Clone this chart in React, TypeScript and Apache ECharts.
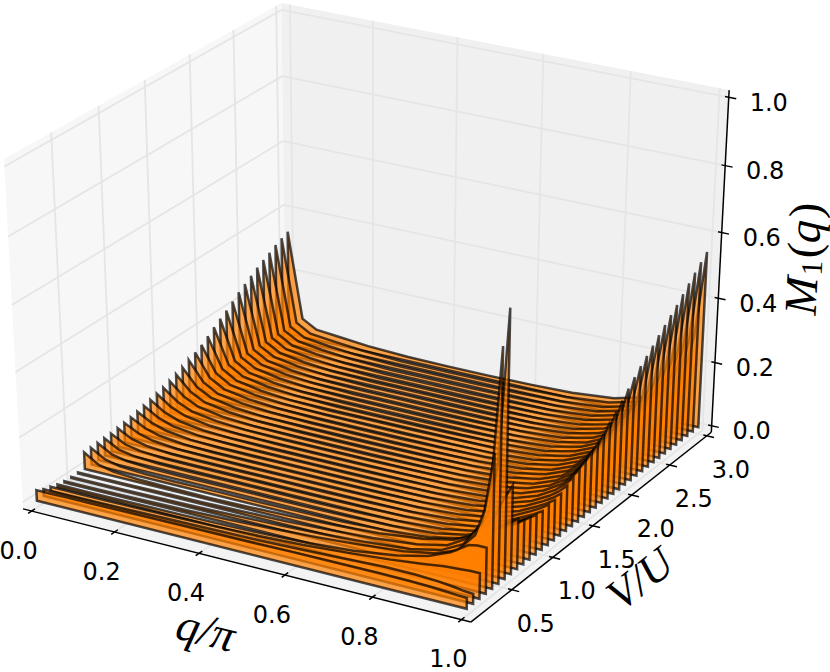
import React, { useEffect, useRef } from "react";
import * as echarts from "echarts";

const qGrid = [0, 0.035, 0.07, 0.13, 0.2, 0.3, 0.4, 0.5, 0.6, 0.7, 0.8, 0.87, 0.92, 0.96, 0.98, 1];
const vStep = 0.075;
const vMin = 0.075;
const vMax = 3;
const qTicks = ["0.0", "0.2", "0.4", "0.6", "0.8", "1.0"];
const vTicks = ["0.5", "1.0", "1.5", "2.0", "2.5", "3.0"];
const mTicks = ["0.0", "0.2", "0.4", "0.6", "0.8", "1.0"];

// one row per V/U slice, front (V = 0.075) to back (V = 3.0), one value per entry of qGrid
const slices = [
  [.033, .033, .034, .034, .035, .036, .037, .038, .04, .041, .042, .041, .039, .036, .034, .033],
  [.022, .022, .022, .023, .024, .026, .028, .03, .034, .039, .045, .045, .042, .036, .032, .03],
  [.015, .015, .015, .015, .016, .018, .02, .024, .03, .04, .052, .063, .072, .076, .078, .078],
  [.008, .008, .008, .008, .009, .01, .012, .015, .021, .031, .05, .072, .1, .135, .14, .14],
  [.004, .004, .004, .005, .006, .008, .012, .018, .025, .035, .048, .065, .09, .15, .23, .408],
  [.003, .003, .003, .004, .005, .007, .01, .014, .02, .028, .04, .06, .095, .17, .3, .704],
  [.003, .003, .003, .004, .005, .006, .009, .012, .018, .026, .04, .06, .1, .18, .34, .8],
  [.0525, .024, .014, .009, .007, .006, .008, .012, .018, .026, .042, .062, .095, .16, .22, .27],
  [.053, .026, .016, .012, .011, .012, .012, .013, .015, .021, .032, .052, .078, .115, .135, .154],
  [.054, .028, .019, .014, .013, .014, .014, .014, .016, .02, .03, .048, .072, .102, .118, .136],
  [.055, .03, .021, .016, .015, .015, .015, .015, .016, .02, .029, .046, .068, .096, .112, .13],
  [.056, .032, .023, .017, .016, .016, .016, .016, .017, .02, .029, .044, .065, .092, .106, .122],
  [.059, .035, .025, .018, .016, .016, .016, .016, .017, .02, .029, .044, .064, .09, .104, .12],
  [.062, .039, .027, .019, .017, .016, .016, .016, .017, .02, .029, .044, .065, .092, .107, .125],
  [.066, .042, .029, .02, .017, .016, .016, .016, .017, .02, .029, .044, .065, .092, .107, .125],
  [.07, .045, .031, .021, .017, .016, .016, .016, .017, .02, .029, .045, .066, .094, .11, .13],
  [.075, .048, .032, .022, .018, .016, .016, .016, .017, .02, .029, .045, .067, .096, .115, .14],
  [.08, .051, .034, .023, .018, .016, .016, .016, .017, .02, .029, .046, .069, .1, .122, .15],
  [.086, .054, .036, .024, .019, .016, .016, .016, .018, .02, .03, .046, .071, .103, .128, .162],
  [.092, .057, .037, .025, .019, .016, .016, .016, .018, .021, .03, .047, .072, .106, .135, .174],
  [.099, .06, .038, .025, .019, .016, .015, .015, .017, .021, .03, .047, .073, .109, .14, .187],
  [.107, .062, .039, .026, .019, .016, .015, .015, .017, .021, .03, .048, .074, .112, .147, .2],
  [.116, .064, .04, .026, .019, .016, .015, .015, .017, .021, .03, .048, .075, .115, .153, .215],
  [.126, .066, .04, .027, .02, .016, .015, .015, .017, .021, .03, .048, .076, .118, .162, .238],
  [.137, .067, .041, .027, .02, .016, .015, .015, .017, .021, .03, .049, .077, .121, .172, .255],
  [.148, .068, .041, .027, .02, .016, .015, .015, .017, .02, .029, .049, .078, .124, .18, .275],
  [.162, .068, .041, .027, .019, .015, .015, .015, .017, .02, .029, .049, .079, .127, .188, .298],
  [.178, .068, .041, .027, .019, .015, .014, .014, .016, .02, .029, .05, .08, .13, .195, .32],
  [.192, .067, .04, .026, .018, .014, .013, .013, .015, .019, .029, .05, .081, .133, .2, .34],
  [.205, .066, .04, .026, .018, .014, .013, .013, .015, .019, .029, .05, .082, .136, .205, .358],
  [.221, .065, .039, .026, .018, .013, .013, .013, .015, .019, .029, .051, .083, .139, .21, .376],
  [.2375, .064, .038, .025, .017, .013, .013, .013, .014, .019, .029, .051, .084, .142, .22, .395],
  [.251, .063, .038, .025, .017, .013, .013, .013, .014, .018, .029, .052, .085, .145, .228, .413],
  [.265, .062, .037, .025, .017, .013, .013, .013, .014, .018, .029, .052, .086, .148, .237, .43],
  [.278, .062, .036, .025, .017, .012, .012, .012, .014, .018, .03, .053, .087, .15, .245, .448],
  [.29, .061, .035, .025, .017, .012, .012, .012, .014, .018, .03, .054, .088, .152, .252, .468],
  [.3, .06, .035, .025, .017, .012, .012, .012, .014, .018, .03, .054, .089, .154, .26, .488],
  [.3126, .06, .034, .025, .017, .012, .012, .012, .014, .018, .03, .055, .09, .156, .267, .508],
  [.322, .06, .034, .026, .018, .012, .012, .012, .014, .018, .031, .055, .091, .158, .274, .527],
  [.33, .06, .034, .027, .019, .013, .012, .012, .014, .018, .031, .056, .092, .16, .28, .5455],
];

// matplotlib's mplot3d camera: elev 30, azim -60, dist 10, mapped to page pixels
const EDGE = 0.5 + 1 / 48;
function project(X: number, Y: number, Z: number): number[] {
  const xv = 0.866025 * X + 0.5 * Y;
  const yv = -0.25 * X + 0.43301 * Y + 0.86603 * Z;
  const d = 0.43301 * X - 0.75 * Y + 0.5 * Z;
  const w = 10 - d;
  return [372.7 + (4962 * xv) / w, 301.5 - (3832 * yv) / w];
}
const bq = (q: number) => q - 0.5;
const bv = (v: number) => (v - vMin) / (vMax - vMin) - 0.5;
const bm = (m: number) => m - 0.5;

const GRID = "#e5e5e5";
const FONT = "DejaVu Sans";
const MATH = "Liberation Serif";

function line(a: number[], b: number[], stroke: string, lineWidth: number) {
  const p = project(a[0], a[1], a[2]);
  const r = project(b[0], b[1], b[2]);
  return { type: "line", shape: { x1: p[0], y1: p[1], x2: r[0], y2: r[1] }, style: { stroke, lineWidth } };
}
function poly(pts: number[][], fill: string) {
  return { type: "polygon", shape: { points: pts.map((p) => project(p[0], p[1], p[2])) }, style: { fill, stroke: "none" } };
}
function label(text: string, p: number[], dx: number, dy: number) {
  return {
    type: "text",
    x: p[0] + dx,
    y: p[1] + dy,
    style: { text, fontFamily: FONT, fontSize: 24, fill: "#000", align: "center", verticalAlign: "middle" },
  };
}
function math(text: string, x: number, y: number, size: number, italic: boolean, align = "left") {
  return {
    type: "text",
    x,
    y,
    style: {
      text,
      fontFamily: MATH,
      fontStyle: italic ? "italic" : "normal",
      fontSize: size,
      fill: "#000",
      align,
      verticalAlign: "middle",
    },
  };
}

function renderFrame() {
  const E = EDGE;
  const children: any[] = [
    poly([[-E, -E, -E], [-E, E, -E], [-E, E, E], [-E, -E, E]], "#f7f7f7"),
    poly([[-E, E, -E], [E, E, -E], [E, E, E], [-E, E, E]], "#f0f0f0"),
    poly([[-E, -E, -E], [E, -E, -E], [E, E, -E], [-E, E, -E]], "#f3f3f3"),
  ];
  qTicks.forEach((t) => {
    const X = bq(+t);
    children.push(line([X, -E, -E], [X, E, -E], GRID, 1.8), line([X, E, -E], [X, E, E], GRID, 1.8));
  });
  vTicks.forEach((t) => {
    const Y = bv(+t);
    children.push(line([E, Y, -E], [-E, Y, -E], GRID, 1.8), line([-E, Y, -E], [-E, Y, E], GRID, 1.8));
  });
  mTicks.forEach((t) => {
    const Z = bm(+t);
    children.push(line([-E, -E, Z], [-E, E, Z], GRID, 1.8), line([-E, E, Z], [E, E, Z], GRID, 1.8));
  });
  children.push(
    line([-E, -E, -E], [E, -E, -E], "#000", 1.5),
    line([E, -E, -E], [E, E, -E], "#000", 1.5),
    line([E, E, -E], [E, E, E], "#000", 1.5)
  );
  const tick = 1 / 12;
  qTicks.forEach((t) => {
    const X = bq(+t);
    children.push(line([X, -E + 0.15 * tick, -E], [X, -E - 0.15 * tick, -E], "#000", 1.5));
    children.push(label(t, project(X, -E, -E), -13, 39.5));
  });
  vTicks.forEach((t) => {
    const Y = bv(+t);
    children.push(line([E - 0.1 * tick, Y, -E], [E + 0.2 * tick, Y, -E], "#000", 1.5));
    children.push(label(t, project(E, Y, -E), 24, 34));
  });
  mTicks.forEach((t) => {
    const Z = bm(+t);
    children.push(line([E - 0.1 * tick, E, Z], [E + 0.2 * tick, E, Z], "#000", 1.5));
    children.push(label(t, project(E, E, Z), 40, 5.5));
  });
  children.push(
    {
      type: "group",
      x: 206,
      y: 630,
      rotation: (-14 * Math.PI) / 180,
      children: [math("q/π", 0, 0, 46, true, "center")],
    },
    {
      type: "group",
      x: 640,
      y: 579,
      rotation: (38 * Math.PI) / 180,
      children: [math("V/U", 0, 0, 44, true, "center")],
    },
    {
      type: "group",
      x: 803,
      y: 258,
      rotation: (87 * Math.PI) / 180,
      children: [
        math("M", -57, 0, 46, true),
        math("1", -17, 9, 30, false),
        math("(", 0, 0, 46, false),
        math("q", 15, 0, 46, true),
        math(")", 40, 0, 46, false),
      ],
    }
  );
  return { type: "group", children };
}

function renderSlice(params: any) {
  const k = slices.length - 1 - params.dataIndex;
  const row = slices[k];
  const Y = bv(vMin + k * vStep);
  const pts: number[][] = [project(bq(qGrid[0]), Y, bm(0))];
  row.forEach((m, i) => pts.push(project(bq(qGrid[i]), Y, bm(m))));
  pts.push(project(bq(qGrid[qGrid.length - 1]), Y, bm(0)));
  return {
    type: "polygon",
    shape: { points: pts },
    style: { fill: "rgba(255,127,0,0.7)", stroke: "rgba(0,0,0,0.7)", lineWidth: 2.5, lineJoin: "miter" },
  };
}

export default function App() {
  const ref = useRef<HTMLDivElement>(null);
  useEffect(() => {
    const chart = echarts.init(ref.current!, undefined, { renderer: "svg" });
    chart.setOption({
      animation: false,
      backgroundColor: "#fff",
      series: [
        { type: "custom", coordinateSystem: "none", silent: true, data: [0], renderItem: renderFrame, z: 1 },
        { type: "custom", coordinateSystem: "none", silent: true, data: slices.map((_, i) => i), renderItem: renderSlice, z: 2 },
      ],
    });
    return () => chart.dispose();
  }, []);
  return <div ref={ref} style={{ position: "fixed", left: 0, top: 0, width: 830, height: 672 }} />;
}
